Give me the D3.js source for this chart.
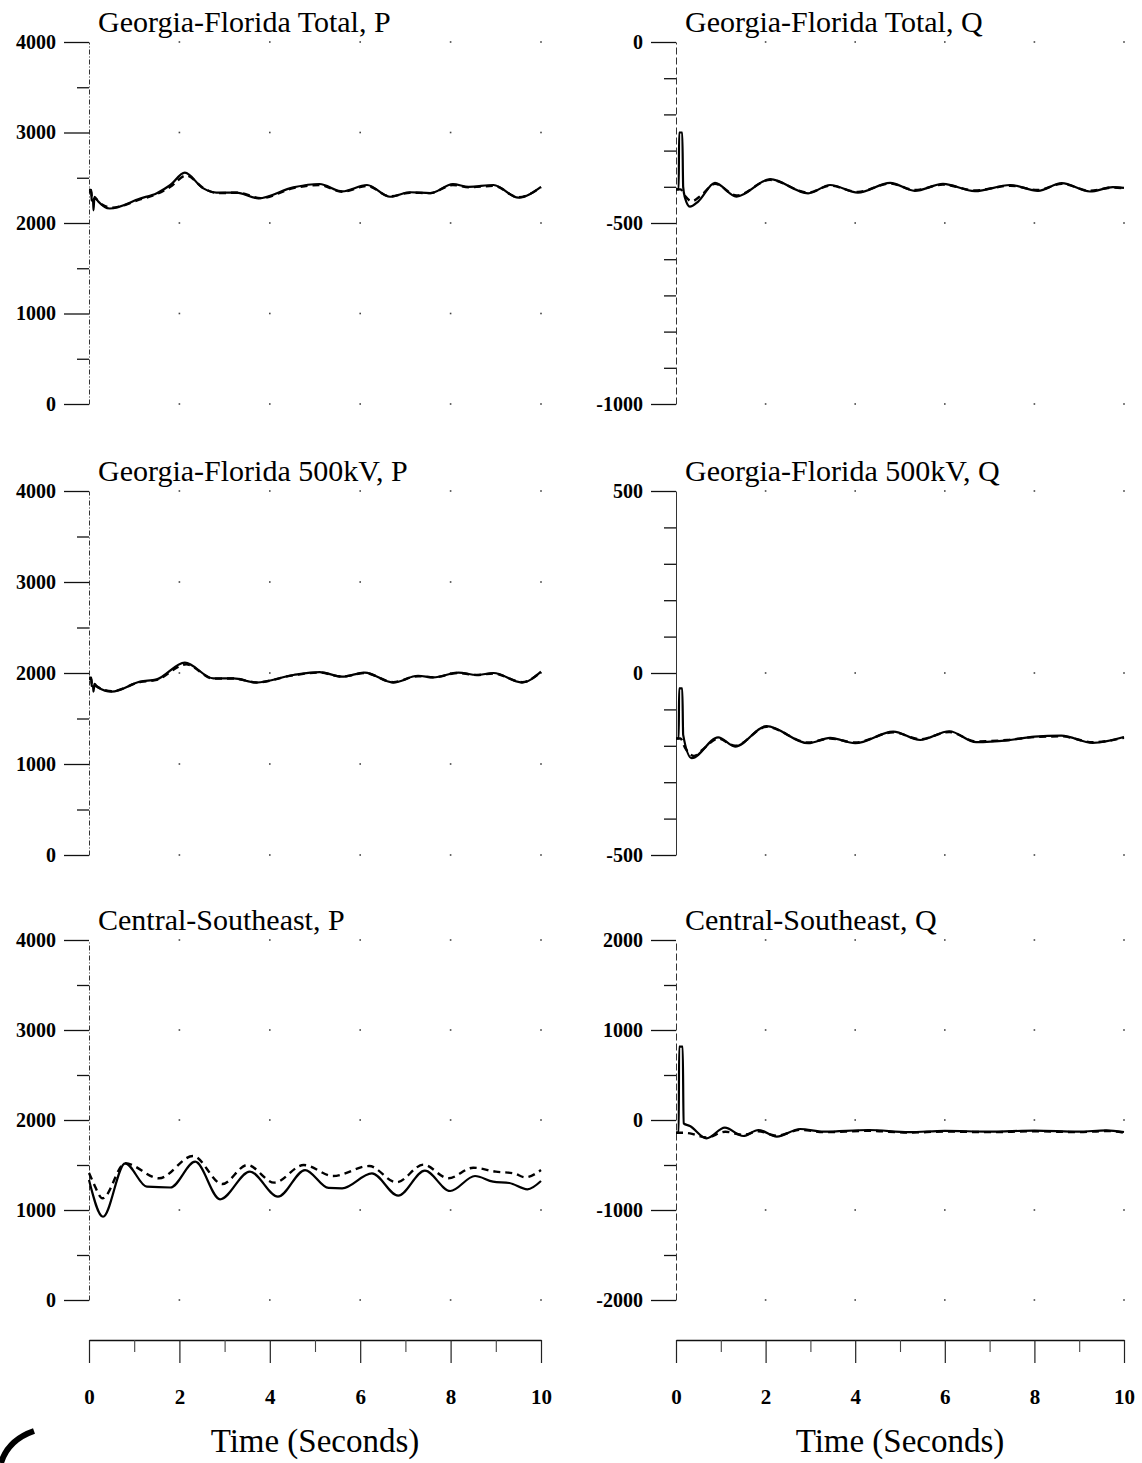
<!DOCTYPE html>
<html><head><meta charset="utf-8">
<script src="https://cdn.jsdelivr.net/npm/d3@7"></script>
<style>
body{margin:0;background:#fff}
svg{display:block}
text{font-family:"Liberation Serif","Times New Roman",serif;fill:#000}
</style></head>
<body><svg id="c" width="1142" height="1463"></svg>
<script>
// ---------- titles & ticks ----------
const titles = ["Georgia-Florida Total, P","Georgia-Florida Total, Q",
                "Georgia-Florida 500kV, P","Georgia-Florida 500kV, Q",
                "Central-Southeast, P","Central-Southeast, Q"];
const xMajorTicks = [0,2,4,6,8,10];
const xMinorTicks = [1,3,5,7,9];
const xLabel = "Time (Seconds)";
const pTicks = [0,1000,2000,3000,4000];
const pMinor = [500,1500,2500,3500];
const q1Ticks = [-1000,-500,0];
const q1Minor = [-900,-800,-700,-600,-400,-300,-200,-100];
const q2Ticks = [-500,0,500];
const q2Minor = [-400,-300,-200,-100,100,200,300,400];
const q3Ticks = [-2000,-1000,0,1000,2000];
const q3Minor = [-1500,-500,500,1500];

// ---------- series [time (s), value] ----------
const gfTotalP_solid = [[0,2370],[0.05,2365],[0.06,2250],[0.09,2240],[0.1,2140],[0.12,2290],[0.2,2240],[0.46,2160],[1.13,2270],[1.5,2330],[1.8,2420],[2.12,2556],[2.52,2385],[2.82,2335],[3.26,2335],[3.75,2272],[4.52,2394],[5.1,2431],[5.6,2350],[6.15,2420],[6.66,2290],[7.1,2340],[7.55,2330],[8.05,2430],[8.4,2400],[8.95,2420],[9.5,2280],[10,2400]];
const gfTotalP_dashed = [[0,2350],[0.05,2345],[0.07,2240],[0.12,2270],[0.3,2200],[0.5,2170],[1.13,2260],[1.5,2320],[1.8,2400],[2.15,2525],[2.55,2380],[2.85,2330],[3.3,2335],[3.8,2275],[4.52,2385],[5.1,2420],[5.6,2345],[6.15,2410],[6.66,2295],[7.1,2335],[7.55,2330],[8.05,2420],[8.4,2395],[8.95,2410],[9.5,2285],[10,2395]];

const gfTotalQ_solid = [[0,-407],[0.06,-407],[0.07,-250],[0.14,-250],[0.16,-400],[0.2,-430],[0.31,-455],[0.5,-440],[0.87,-389],[1.35,-427],[2.1,-379],[2.95,-418],[3.44,-395],[4.06,-416],[4.78,-389],[5.33,-411],[5.96,-392],[6.67,-412],[7.46,-395],[8.08,-411],[8.61,-390],[9.24,-413],[9.75,-401],[10,-403]];
const gfTotalQ_dashed = [[0,-407],[0.1,-407],[0.2,-425],[0.35,-440],[0.55,-425],[0.87,-392],[1.35,-424],[2.1,-381],[2.95,-416],[3.44,-397],[4.06,-414],[4.78,-391],[5.33,-409],[5.96,-394],[6.67,-410],[7.46,-397],[8.08,-409],[8.61,-392],[9.24,-411],[9.75,-402],[10,-404]];

const gf500P_solid = [[0,1950],[0.05,1950],[0.06,1860],[0.09,1850],[0.1,1795],[0.12,1880],[0.2,1840],[0.5,1795],[1.13,1905],[1.5,1930],[2.12,2114],[2.75,1941],[3.2,1941],[3.7,1895],[4.52,1978],[5.1,2010],[5.6,1960],[6.1,2005],[6.73,1895],[7.28,1970],[7.62,1952],[8.17,2005],[8.58,1978],[8.95,2000],[9.58,1895],[10,2015]];
const gf500P_dashed = [[0,1935],[0.05,1935],[0.07,1850],[0.12,1860],[0.3,1820],[0.5,1800],[1.13,1900],[1.5,1925],[2.15,2095],[2.75,1938],[3.2,1940],[3.7,1897],[4.52,1975],[5.1,2005],[5.6,1960],[6.1,2000],[6.73,1900],[7.28,1965],[7.62,1952],[8.17,2000],[8.58,1978],[8.95,1995],[9.58,1900],[10,2010]];

const gf500Q_solid = [[0,-180],[0.06,-180],[0.07,-42],[0.14,-42],[0.16,-170],[0.35,-234],[0.94,-177],[1.32,-202],[2.02,-146],[2.95,-193],[3.44,-178],[4.0,-193],[4.85,-161],[5.45,-184],[6.1,-160],[6.7,-190],[7.4,-185],[8.0,-175],[8.6,-172],[9.3,-192],[10,-176]];
const gf500Q_dashed = [[0,-180],[0.1,-180],[0.2,-205],[0.4,-228],[0.6,-210],[0.94,-180],[1.32,-200],[2.02,-148],[2.95,-191],[3.44,-180],[4.0,-191],[4.85,-163],[5.45,-182],[6.1,-162],[6.7,-188],[7.4,-184],[8.0,-176],[8.6,-174],[9.3,-190],[10,-178]];

const csP_solid = [[0,1333],[0.31,925],[0.8,1519],[1.28,1259],[1.8,1250],[2.35,1537],[2.9,1119],[3.56,1426],[4.18,1148],[4.78,1444],[5.3,1245],[5.6,1241],[6.26,1407],[6.84,1159],[7.43,1437],[7.99,1211],[8.54,1378],[8.94,1315],[9.3,1300],[9.7,1230],[10,1322]];
const csP_dashed = [[0,1411],[0.1,1300],[0.3,1130],[0.8,1519],[1.55,1352],[2.3,1600],[2.95,1289],[3.5,1500],[4.1,1304],[4.75,1500],[5.4,1378],[6.2,1489],[6.8,1307],[7.4,1504],[7.95,1352],[8.5,1470],[9.0,1426],[9.4,1407],[9.65,1363],[10,1444]];

const csQ_solid = [[0,-141],[0.06,-141],[0.07,815],[0.15,815],[0.17,-37],[0.31,-67],[0.68,-204],[1.09,-85],[1.5,-178],[1.84,-111],[2.25,-185],[2.77,-100],[3.3,-130],[4.3,-111],[5.2,-135],[6.0,-120],[7.0,-130],[8.0,-118],[9.0,-130],[9.6,-115],[10,-133]];
const csQ_dashed = [[0,-141],[0.15,-141],[0.31,-148],[0.68,-195],[1.1,-130],[1.5,-165],[1.84,-125],[2.25,-175],[2.77,-110],[3.3,-135],[4.3,-120],[5.2,-140],[6.0,-128],[7.0,-135],[8.0,-125],[9.0,-135],[9.6,-122],[10,-140]];

// ---------- layout ----------
const svg = d3.select("#c");
const cols = [[89,541],[676,1124]];
const rows = [[404,42],[855,491],[1300,940]];
const xAxisY = 1340;

const panels = [
  {t:titles[0],c:0,r:0,dom:[0,4000],maj:pTicks,min:pMinor,s:gfTotalP_solid,d:gfTotalP_dashed,axisDash:"5,2,1,2"},
  {t:titles[1],c:1,r:0,dom:[-1000,0],maj:q1Ticks,min:q1Minor,s:gfTotalQ_solid,d:gfTotalQ_dashed,axisDash:"7,3"},
  {t:titles[2],c:0,r:1,dom:[0,4000],maj:pTicks,min:pMinor,s:gf500P_solid,d:gf500P_dashed,axisDash:"5,2,1,2"},
  {t:titles[3],c:1,r:1,dom:[-500,500],maj:q2Ticks,min:q2Minor,s:gf500Q_solid,d:gf500Q_dashed,axisDash:null},
  {t:titles[4],c:0,r:2,dom:[0,4000],maj:pTicks,min:pMinor,s:csP_solid,d:csP_dashed,axisDash:"5,2,1,2"},
  {t:titles[5],c:1,r:2,dom:[-2000,2000],maj:q3Ticks,min:q3Minor,s:csQ_solid,d:csQ_dashed,axisDash:"7,3"}
];

panels.forEach(p=>{
  const x = d3.scaleLinear().domain([0,10]).range(cols[p.c]);
  const y = d3.scaleLinear().domain(p.dom).range(rows[p.r]);
  const g = svg.append("g");

  // grid dots
  xMajorTicks.filter(t=>t>0).forEach(t=>p.maj.forEach(v=>{
    g.append("rect").attr("x",x(t)-0.8).attr("y",y(v)-0.8).attr("width",1.6).attr("height",1.6).attr("fill","#444");
  }));

  // y axis (major)
  const ax = g.append("g").attr("transform",`translate(${x(0)},0)`)
    .call(d3.axisLeft(y).tickValues(p.maj).tickSize(25).tickSizeOuter(0).tickPadding(8).tickFormat(d=>String(d)));
  ax.selectAll(".tick line").attr("stroke","#111").attr("stroke-width",1.3);
  ax.selectAll(".tick text").attr("font-family","Liberation Serif").attr("font-weight","bold").attr("font-size",20);
  ax.select(".domain").attr("stroke","#333").attr("stroke-width",1).attr("stroke-dasharray",p.axisDash);
  // y axis (minor)
  const axm = g.append("g").attr("transform",`translate(${x(0)},0)`)
    .call(d3.axisLeft(y).tickValues(p.min).tickSize(12).tickSizeOuter(0).tickFormat(""));
  axm.select(".domain").remove();
  axm.selectAll(".tick line").attr("stroke","#111").attr("stroke-width",1.3);

  // title
  g.append("text").attr("x",x(0)+9).attr("y",y(p.dom[1])-10)
    .attr("font-size",30).text(p.t);

  // lines
  const line = d3.line().x(d=>x(d[0])).y(d=>y(d[1])).curve(d3.curveMonotoneX);
  g.append("path").datum(p.d).attr("d",line).attr("fill","none")
    .attr("stroke","#000").attr("stroke-width",2.4).attr("stroke-dasharray","7,5");
  g.append("path").datum(p.s).attr("d",line).attr("fill","none")
    .attr("stroke","#000").attr("stroke-width",2.2).attr("stroke-linejoin","round");
});

// bottom time axes
cols.forEach(range=>{
  const x = d3.scaleLinear().domain([0,10]).range(range);
  const g = svg.append("g").attr("transform",`translate(0,${xAxisY})`);
  const a = g.append("g").call(d3.axisBottom(x).tickValues(xMajorTicks).tickSize(23).tickSizeOuter(0).tickPadding(26).tickFormat(d=>String(d)));
  a.selectAll(".tick line").attr("stroke","#222").attr("stroke-width",1.2);
  a.selectAll(".tick text").attr("font-family","Liberation Serif").attr("font-weight","bold").attr("font-size",21);
  a.select(".domain").attr("stroke","#111").attr("stroke-width",1.3);
  const m = g.append("g").call(d3.axisBottom(x).tickValues(xMinorTicks).tickSize(12).tickSizeOuter(0).tickFormat(""));
  m.select(".domain").remove();
  m.selectAll(".tick line").attr("stroke","#444").attr("stroke-width",1.1);
  svg.append("text").attr("x",(range[0]+range[1])/2).attr("y",1452)
    .attr("text-anchor","middle").attr("font-size",33).text(xLabel);
});

// corner logo fragment
svg.append("path").attr("d","M34,1431 Q8,1440 1,1463").attr("fill","none").attr("stroke","#000").attr("stroke-width",6);
</script>
</body></html>
